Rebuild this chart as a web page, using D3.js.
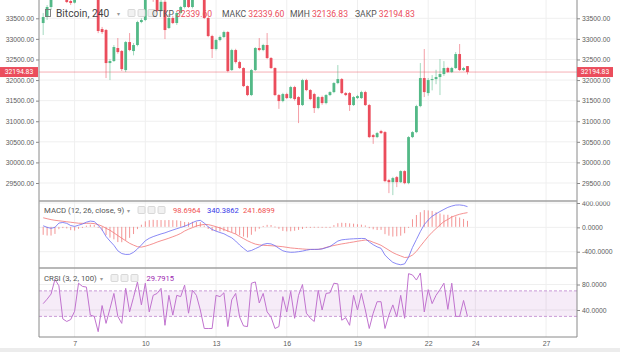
<!DOCTYPE html>
<html>
<head>
<meta charset="utf-8">
<script src="https://cdn.jsdelivr.net/npm/d3@7"></script>
<style>
  html, body { margin: 0; padding: 0; background: #fff; }
  svg { display: block; font-family: Roboto, "Noto Sans", sans-serif; }
</style>
</head>
<body>
<div id="chart"></div>
<script>
// Bitcoin 240 (4h bars), July 2021
const firstBar = Date.UTC(2021, 6, 5, 16);
const barHours = 4;

// [open, high, low, close]
const bars = [
  [33385, 33628, 33094, 33531], [33531, 33822, 33458, 33774], [33774, 34138, 33701, 34066],
  [34066, 34250, 34000, 34180], [34180, 34230, 34020, 34060], [34060, 34260, 34020, 34200],
  [34200, 34230, 33870, 33895], [33920, 33960, 33822, 33871], [33880, 34050, 33860, 34000],
  [34000, 34150, 33960, 34100], [34100, 34300, 34050, 34250], [34250, 34400, 34200, 34350],
  [34350, 34420, 34180, 34220], [34220, 34300, 34050, 34120], [34120, 34180, 33140, 33191],
  [33239, 33290, 33120, 33166], [33215, 33240, 32049, 32413], [32413, 32510, 32000, 32462],
  [32462, 32850, 32440, 32802], [32778, 33021, 32640, 32680], [32705, 32730, 32220, 32267],
  [32243, 32950, 32194, 32923], [32923, 33142, 32700, 32729], [32705, 32900, 32600, 32851],
  [32851, 33440, 32820, 33409], [33409, 33500, 33380, 33458], [33458, 34050, 33430, 33990],
  [33990, 34200, 33950, 34120], [34120, 34160, 33900, 33950], [33950, 34000, 33650, 33680],
  [33680, 33960, 33660, 33900], [33900, 33940, 32996, 33215], [33264, 33600, 33240, 33507],
  [33507, 33560, 33360, 33385], [33385, 33660, 33340, 33628], [33628, 33800, 33600, 33774],
  [33774, 34120, 33740, 34066], [34066, 34100, 33750, 33774], [33774, 34150, 33740, 34100],
  [34100, 34300, 34050, 34250], [34250, 34320, 34100, 34150], [34150, 34180, 33480, 33507],
  [33507, 33530, 33040, 33069], [33069, 33100, 32535, 32753], [32753, 33000, 32720, 32972],
  [32972, 33080, 32940, 33045], [33045, 33200, 33020, 33166], [33166, 33190, 32190, 32219],
  [32243, 32760, 32220, 32729], [32729, 32760, 32400, 32437], [32437, 32470, 32270, 32292],
  [32292, 32310, 31830, 31854], [31854, 31870, 31610, 31636], [31636, 32270, 31610, 32243],
  [32243, 32800, 32220, 32778], [32778, 33021, 32700, 32729], [32729, 32880, 32700, 32851],
  [32851, 33142, 32510, 32535], [32535, 32560, 32270, 32292], [32292, 32310, 31610, 31636],
  [31636, 31660, 31300, 31490], [31490, 31690, 31460, 31660], [31660, 31690, 31540, 31563],
  [31563, 31860, 31540, 31830], [31830, 31860, 31500, 31538], [31587, 31610, 30955, 31393],
  [31393, 32030, 31370, 32000], [32000, 32030, 31730, 31757], [31757, 31780, 31510, 31538],
  [31660, 31690, 31200, 31320], [31320, 31610, 31290, 31587], [31587, 31620, 31400, 31441],
  [31441, 31660, 31410, 31636], [31636, 31730, 31610, 31708], [31708, 31950, 31680, 31927],
  [31927, 32364, 31900, 32024], [32024, 32050, 31660, 31684], [31684, 31710, 31610, 31636],
  [31684, 31710, 31250, 31393], [31393, 31610, 31370, 31587], [31563, 31640, 31540, 31611],
  [31563, 31740, 31540, 31708], [31708, 31740, 31370, 31393], [31393, 31420, 30590, 30615],
  [30663, 30690, 30450, 30615], [30615, 30740, 30590, 30712], [30761, 30790, 30690, 30712],
  [30736, 30760, 29520, 29546], [29570, 29600, 29254, 29521], [29521, 29650, 29206, 29619],
  [29643, 29670, 29400, 29521], [29521, 29810, 29500, 29789], [29789, 29810, 29470, 29497],
  [29497, 30640, 29470, 30615], [30615, 30760, 30590, 30736], [30736, 31400, 30710, 31368],
  [31368, 32413, 31340, 32049], [32049, 32754, 31587, 31708], [31684, 32050, 31620, 32000],
  [32000, 32120, 31750, 32024], [32024, 32250, 31900, 32073], [32073, 32510, 31636, 32146],
  [32146, 32460, 32100, 32292], [32292, 32320, 32170, 32194], [32194, 32320, 32170, 32292],
  [32292, 32680, 32270, 32632], [32632, 32875, 32220, 32243], [32243, 32320, 32220, 32292],
  [32339.6, 32339.6, 32136.83, 32194.83],
];

const macdLine = [
  26, 0, -16, 0, 70, 80, 66, 30, 15, 35, 55, 85, 103, 95, 35, -40, -150, -225, -295, -385,
  -430, -445, -443, -410, -355, -290, -220, -180, -152, -130, -108, -90, -66, -44, -22, -2,
  20, 45, 78, 105, 115, 70, 10, -35, -62, -85, -105, -140, -172, -225, -290, -345, -395,
  -380, -350, -320, -280, -265, -272, -300, -345, -385, -402, -410, -408, -400, -390, -375,
  -363, -362, -361, -355, -335, -315, -270, -225, -205, -198, -192, -188, -185, -182, -185,
  -240, -285, -320, -345, -455, -520, -575, -600, -615, -600, -490, -330, -200, -70, 45,
  120, 182, 222, 260, 295, 328, 350, 366, 368, 360, 340.3862,
];

const signalLine = [
  157, 142, 127, 116, 108, 100, 92, 84, 76, 68, 66, 66, 67, 62, 45, 20, -15, -48, -90, -135,
  -178, -220, -262, -292, -318, -325, -310, -290, -268, -242, -220, -200, -178, -154, -130,
  -100, -60, -30, -5, 22, 38, 48, 45, 30, 10, -10, -35, -60, -85, -110, -150, -185, -220,
  -250, -275, -288, -295, -298, -302, -306, -312, -318, -328, -338, -344, -350, -355, -360,
  -362, -363, -362, -350, -330, -312, -298, -285, -272, -262, -250, -240, -228, -218, -208,
  -218, -245, -268, -295, -335, -375, -415, -445, -470, -495, -490, -455, -395, -310, -230,
  -150, -80, -20, 40, 95, 130, 170, 195, 215, 230, 241.6899,
];

const macdHist = [
  -131, -142, -143, -116, -38, -20, -26, -54, -61, -33, -11, 19, 36, 33, -10, -60, -135,
  -177, -205, -250, -252, -225, -181, -118, -37, 35, 90, 110, 116, 112, 112, 110, 112, 110,
  108, 98, 80, 75, 83, 83, 77, 22, -35, -65, -72, -75, -70, -80, -87, -115, -140, -160,
  -175, -130, -75, -32, 15, 33, 30, 6, -33, -67, -74, -72, -64, -50, -35, -15, -1, 1, 1,
  -5, -5, -3, 28, 60, 67, 64, 58, 52, 43, 36, 23, -22, -40, -52, -50, -120, -145, -160,
  -155, -145, -105, 0, 125, 195, 240, 275, 270, 262, 242, 220, 200, 198, 180, 171, 153,
  130, 98.6964,
];

const crsiLine = [
  50, 57, 65, 88, 78, 26, 22, 25, 38, 82, 77, 76, 32, 30, 6, 47, 19, 42, 66, 30, 19, 74,
  37, 60, 84, 48, 82, 37, 63, 66, 74, 16, 63, 32, 63, 61, 79, 35, 71, 63, 40, 11, 11, 11,
  63, 61, 67, 14, 56, 66, 29, 15, 14, 82, 84, 51, 66, 37, 29, 11, 14, 61, 37, 69, 27, 63,
  80, 35, 27, 22, 71, 40, 66, 67, 82, 81, 24, 28, 16, 63, 40, 66, 40, 11, 35, 53, 53, 11,
  32, 48, 29, 63, 27, 97, 95, 87, 98, 37, 72, 50, 63, 72, 82, 41, 82, 30, 30, 55, 29.7915,
];

const priceTicks = [29500, 30000, 30500, 31000, 31500, 32000, 32500, 33000, 33500];
const macdTicks = [-400, 0, 400];
const crsiTicks = [40, 80];
const crsiBands = [30, 70];
const dayTicks = [7, 10, 13, 16, 19, 22, 24, 27];

const legendOhlc = [
  ["ОТКР", "32339.60"],
  ["МАКС", "32339.60"],
  ["МИН", "32136.83"],
  ["ЗАКР", "32194.83"],
];

const width = 620;
const height = 352;
const left = 39;
const right = 577;
const mainPane = { top: 0, bottom: 201 };
const macdPane = { top: 201, bottom: 268 };
const crsiPane = { top: 268, bottom: 337 };

const upColor = "#53b987";
const downColor = "#eb4d5c";
const gridColor = "#efefef";
const axisColor = "#8a8a8a";
const labelColor = "#5d5d5d";

const barTime = (i) => new Date(firstBar + i * barHours * 3600e3);
const last = bars[bars.length - 1];

const x = d3
  .scaleUtc()
  .domain([new Date(Date.UTC(2021, 6, 5, 11, 45)), new Date(Date.UTC(2021, 6, 28, 7, 30))])
  .range([left, right]);
const yMain = d3.scaleLinear().domain([29500, 33500]).range([183, 18.3]);
const yMacd = d3.scaleLinear().domain([-400, 400]).range([251.7, 203]);
const yCrsi = d3.scaleLinear().domain([0, 100]).range([335.5, 271.75]);

const svg = d3
  .select("#chart")
  .append("svg")
  .attr("width", width)
  .attr("height", height);

const defs = svg.append("defs");
const addClip = (id, x0, y0, w, h) =>
  defs.append("clipPath").attr("id", id).append("rect")
    .attr("x", x0).attr("y", y0).attr("width", w).attr("height", h);

addClip("clip-main", left, mainPane.top, right - left, mainPane.bottom - mainPane.top);
addClip("clip-macd", left, macdPane.top, right - left, macdPane.bottom - macdPane.top);
addClip("clip-crsi", left, crsiPane.top, right - left, crsiPane.bottom - crsiPane.top);
addClip("clip-macd-axis", 0, macdPane.top + 0.5, width, macdPane.bottom - macdPane.top);
addClip("clip-crsi-axis", 0, crsiPane.top + 0.5, width, crsiPane.bottom - crsiPane.top);

svg.append("rect").attr("width", width).attr("height", height).attr("fill", "#fff");
svg.append("rect")
  .attr("x", 0).attr("y", 348).attr("width", width).attr("height", height - 348)
  .attr("fill", "#ececec");

// grid
const grid = svg.append("g").attr("stroke", gridColor).attr("stroke-width", 1);
grid.selectAll(".vgrid")
  .data(dayTicks)
  .join("line")
  .attr("x1", (d) => x(Date.UTC(2021, 6, d)))
  .attr("x2", (d) => x(Date.UTC(2021, 6, d)))
  .attr("y1", mainPane.top)
  .attr("y2", crsiPane.bottom);
grid.selectAll(".hmain")
  .data(priceTicks)
  .join("line")
  .attr("x1", left).attr("x2", right)
  .attr("y1", (d) => yMain(d)).attr("y2", (d) => yMain(d));
grid.selectAll(".hmacd")
  .data(macdTicks)
  .join("line")
  .attr("clip-path", "url(#clip-macd)")
  .attr("x1", left).attr("x2", right)
  .attr("y1", (d) => yMacd(d)).attr("y2", (d) => yMacd(d));
grid.selectAll(".hcrsi")
  .data(crsiTicks)
  .join("line")
  .attr("x1", left).attr("x2", right)
  .attr("y1", (d) => yCrsi(d)).attr("y2", (d) => yCrsi(d));

// last price line
svg.append("line")
  .attr("x1", left).attr("x2", right)
  .attr("y1", yMain(last[3])).attr("y2", yMain(last[3]))
  .attr("stroke", downColor).attr("stroke-opacity", 0.45);

// candles
const bodyW = 2.8;
const candleG = svg.append("g").attr("clip-path", "url(#clip-main)");
candleG.selectAll(".wick")
  .data(bars)
  .join("line")
  .attr("class", "wick")
  .attr("x1", (d, i) => x(barTime(i)))
  .attr("x2", (d, i) => x(barTime(i)))
  .attr("y1", (d) => yMain(d[1]))
  .attr("y2", (d) => yMain(d[2]))
  .attr("stroke", (d) => (d[3] >= d[0] ? upColor : downColor))
  .attr("stroke-opacity", 0.6)
  .attr("stroke-width", 0.9);
candleG.selectAll(".body")
  .data(bars)
  .join("rect")
  .attr("class", "body")
  .attr("x", (d, i) => x(barTime(i)) - bodyW / 2)
  .attr("width", bodyW)
  .attr("y", (d) => yMain(Math.max(d[0], d[3])))
  .attr("height", (d) => Math.max(1, Math.abs(yMain(d[0]) - yMain(d[3]))))
  .attr("fill", (d) => (d[3] >= d[0] ? upColor : downColor));

// MACD pane
const macdG = svg.append("g").attr("clip-path", "url(#clip-macd)");
macdG.selectAll(".hist")
  .data(macdHist)
  .join("rect")
  .attr("x", (d, i) => x(barTime(i)) - 0.5)
  .attr("width", 1)
  .attr("y", (d) => Math.min(yMacd(d), yMacd(0)) - 0.5)
  .attr("height", (d) => Math.max(1, Math.abs(yMacd(d) - yMacd(0))))
  .attr("fill", "#f07b7b")
  .attr("opacity", 0.8);
const macdPath = d3.line().x((d, i) => x(barTime(i))).y((d) => yMacd(d));
macdG.append("path")
  .attr("d", macdPath(signalLine))
  .attr("fill", "none").attr("stroke", "#f27575").attr("stroke-opacity", 0.8).attr("stroke-width", 1);
macdG.append("path")
  .attr("d", macdPath(macdLine))
  .attr("fill", "none").attr("stroke", "#6b6bf2").attr("stroke-opacity", 0.8).attr("stroke-width", 1);

// CRSI pane
const crsiG = svg.append("g").attr("clip-path", "url(#clip-crsi)");
crsiG.append("rect")
  .attr("x", left).attr("width", right - left)
  .attr("y", yCrsi(crsiBands[1]))
  .attr("height", yCrsi(crsiBands[0]) - yCrsi(crsiBands[1]))
  .attr("fill", "#9c27b0").attr("fill-opacity", 0.09);
crsiG.selectAll(".band")
  .data(crsiBands)
  .join("line")
  .attr("x1", left).attr("x2", right)
  .attr("y1", (d) => yCrsi(d)).attr("y2", (d) => yCrsi(d))
  .attr("stroke", "#c99bd6").attr("stroke-dasharray", "3,2");
crsiG.append("path")
  .attr("d", d3.line().x((d, i) => x(barTime(i))).y((d) => yCrsi(d))(crsiLine))
  .attr("fill", "none").attr("stroke", "#c173cf").attr("stroke-width", 1);

// axes
const styleAxis = (g, size) => {
  g.select(".domain").remove();
  g.selectAll("line").attr("stroke", axisColor);
  g.selectAll("text").attr("fill", labelColor).attr("font-size", size);
};
const axisPair = (scale, ticks, fmt, clip) => {
  const gl = svg.append("g").attr("transform", `translate(${left},0)`)
    .call(d3.axisLeft(scale).tickValues(ticks).tickFormat(fmt).tickSize(3).tickPadding(2))
    .call((g) => styleAxis(g, 6.8));
  const gr = svg.append("g").attr("transform", `translate(${right},0)`)
    .call(d3.axisRight(scale).tickValues(ticks).tickFormat(fmt).tickSize(3).tickPadding(2))
    .call((g) => styleAxis(g, 6.8));
  if (clip) {
    gl.attr("clip-path", `url(#${clip})`);
    gr.attr("clip-path", `url(#${clip})`);
  }
};
axisPair(yMain, priceTicks, (d) => d.toFixed(2));
axisPair(yMacd, macdTicks, (d) => d.toFixed(4), "clip-macd-axis");
axisPair(yCrsi, crsiTicks, (d) => d.toFixed(4), "clip-crsi-axis");

svg.append("g")
  .attr("transform", `translate(0,${crsiPane.bottom})`)
  .call(d3.axisBottom(x).tickValues(dayTicks.map((d) => new Date(Date.UTC(2021, 6, d))))
    .tickFormat(d3.utcFormat("%-d")).tickSize(0).tickPadding(4))
  .call((g) => styleAxis(g, 7));

// frame lines
const frame = svg.append("g").attr("stroke", axisColor).attr("stroke-width", 1);
frame.append("line").attr("x1", left).attr("x2", left).attr("y1", 0).attr("y2", crsiPane.bottom);
frame.append("line").attr("x1", right).attr("x2", right).attr("y1", 0).attr("y2", crsiPane.bottom);
frame.append("line").attr("x1", left).attr("x2", right).attr("y1", crsiPane.bottom).attr("y2", crsiPane.bottom);
frame.selectAll(".sep")
  .data([macdPane.top, crsiPane.top])
  .join("line")
  .attr("x1", left).attr("x2", right)
  .attr("y1", (d) => d).attr("y2", (d) => d)
  .attr("stroke", "#a0a0a0").attr("stroke-width", 1.4);

// last price tags
[[0, left - 1, "end"], [right, 36, "start"]].forEach(([x0, w]) => {
  const yy = yMain(last[3]);
  svg.append("rect")
    .attr("x", x0).attr("y", yy - 5).attr("width", w).attr("height", 10)
    .attr("fill", downColor);
  svg.append("text")
    .attr("x", x0 + w / 2).attr("y", yy + 2.4)
    .attr("text-anchor", "middle").attr("font-size", 6.8).attr("fill", "#fff")
    .text(last[3].toFixed(2));
});

// legends
const iconBoxes = (g, x0, y0) => {
  [0, 10, 20].forEach((dx) => {
    g.append("rect")
      .attr("x", x0 + dx).attr("y", y0).attr("width", 7).attr("height", 7).attr("rx", 1)
      .attr("fill", "#f1f1f1").attr("stroke", "#cfcfcf").attr("stroke-width", 0.8);
  });
};

const head = svg.append("g");
head.append("rect")
  .attr("x", 45.5).attr("y", 9.5).attr("width", 5).attr("height", 7)
  .attr("fill", "none").attr("stroke", "#777").attr("stroke-width", 0.9);
head.append("text")
  .attr("x", 56).attr("y", 17).attr("font-size", 10.2).attr("fill", "#444")
  .text("Bitcoin, 240");
head.append("text")
  .attr("x", 117).attr("y", 16).attr("font-size", 6).attr("fill", "#999").text("▾");
iconBoxes(head, 128, 9.5);
const ohlcX = [152, 222, 290, 355];
legendOhlc.forEach(([label, value], i) => {
  const t = head.append("text").attr("x", ohlcX[i]).attr("y", 16.5).attr("font-size", 8.6);
  t.append("tspan").attr("fill", "#555").text(label + " ");
  t.append("tspan").attr("fill", downColor).text(value);
});

const macdLegend = svg.append("g");
macdLegend.append("text")
  .attr("x", 44).attr("y", 213).attr("font-size", 7.8).attr("fill", "#555")
  .text("MACD (12, 26, close, 9)");
macdLegend.append("text")
  .attr("x", 127).attr("y", 212.5).attr("font-size", 5.5).attr("fill", "#999").text("▾");
iconBoxes(macdLegend, 138, 206.5);
[
  [173, macdHist[macdHist.length - 1].toFixed(4), "#ef4f4f"],
  [207, macdLine[macdLine.length - 1].toFixed(4), "#3a3ae8"],
  [243, signalLine[signalLine.length - 1].toFixed(4), "#ef4f4f"],
].forEach(([xx, txt, col]) => {
  macdLegend.append("text")
    .attr("x", xx).attr("y", 213).attr("font-size", 7.6).attr("fill", col).text(txt);
});

const crsiLegend = svg.append("g");
crsiLegend.append("text")
  .attr("x", 44).attr("y", 281).attr("font-size", 7.8).attr("fill", "#555")
  .text("CRSI (3, 2, 100)");
crsiLegend.append("text")
  .attr("x", 100).attr("y", 280.5).attr("font-size", 5.5).attr("fill", "#999").text("▾");
iconBoxes(crsiLegend, 111, 274.5);
crsiLegend.append("text")
  .attr("x", 146.5).attr("y", 281).attr("font-size", 7.6).attr("fill", "#9c27b0")
  .text(crsiLine[crsiLine.length - 1].toFixed(4));
</script>
</body>
</html>
